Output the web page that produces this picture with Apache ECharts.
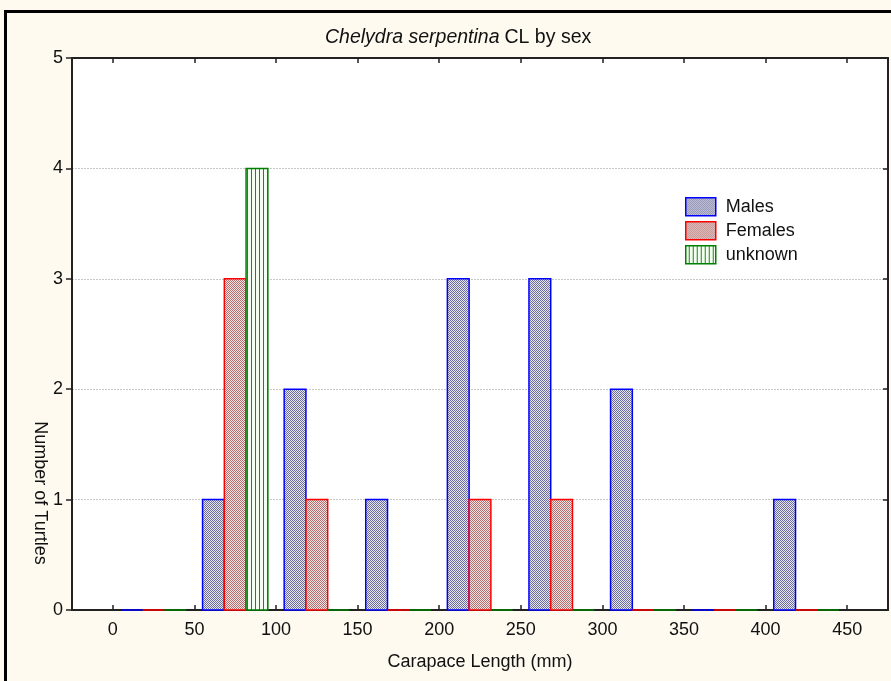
<!DOCTYPE html>
<html>
<head>
<meta charset="utf-8">
<script src="https://cdn.jsdelivr.net/npm/echarts@6/dist/echarts.min.js"></script>
<style>
html,body{margin:0;padding:0;background:#fefaf0;}
#chart{width:891px;height:681px;}
</style>
</head>
<body>
<div id="chart"></div>
<script>
// ---- data ----
var binCenters = [25, 75, 125, 175, 225, 275, 325, 375, 425];
var males   = [0, 1, 2, 1, 3, 3, 2, 0, 1];
var females = [0, 3, 1, 0, 1, 1, 0, 0, 0];
var unknown = [0, 4, 0, 0, 0, 0, 0, 0, 0];
var xTicks = [0, 50, 100, 150, 200, 250, 300, 350, 400, 450];
var yTicks = [0, 1, 2, 3, 4, 5];
var seriesNames = ['Males', 'Females', 'unknown'];

// ---- patterns ----
function checker(dark, light) {
  var c = document.createElement('canvas');
  c.width = 4; c.height = 4;
  var g = c.getContext('2d');
  g.fillStyle = light; g.fillRect(0, 0, 4, 4);
  g.fillStyle = dark;
  for (var y = 0; y < 4; y++) for (var x = 0; x < 4; x++) {
    if ((x + y) % 2 === 0) g.fillRect(x, y, 1, 1);
  }
  return c;
}
function vlines(line, bg) {
  var c = document.createElement('canvas');
  c.width = 4; c.height = 4;
  var g = c.getContext('2d');
  g.fillStyle = bg; g.fillRect(0, 0, 4, 4);
  g.fillStyle = line; g.fillRect(3, 0, 1, 4);
  return c;
}
var pats = [
  {image: checker('#6e6e9e', '#e6e6f0'), repeat: 'repeat'},
  {image: checker('#b07070', '#f6e2e2'), repeat: 'repeat'},
  {image: vlines('#1a8a1a', '#f4fcf2'), repeat: 'repeat'}
];
var strokes = ['#0000ff', '#ff0000', '#008000'];
var offsets = [[-20, -20 / 3], [-20 / 3, 20 / 3], [20 / 3, 20]];
var values = [males, females, unknown];

function makeSeries(k) {
  return {
    name: seriesNames[k],
    type: 'custom',
    itemStyle: {color: pats[k], borderColor: strokes[k], borderWidth: 1.5},
    data: binCenters.map(function (c, i) { return [c, values[k][i]]; }),
    renderItem: function (params, api) {
      var xc = api.value(0), v = api.value(1);
      var p0 = api.coord([xc + offsets[k][0], 0]);
      var p1 = api.coord([xc + offsets[k][1], v]);
      return {
        type: 'rect',
        shape: {x: p0[0], y: p1[1], width: p1[0] - p0[0], height: p0[1] - p1[1]},
        style: {fill: pats[k], stroke: strokes[k], lineWidth: 1.5}
      };
    }
  };
}

var font = 'Liberation Sans, Arial, sans-serif';
var chart = echarts.init(document.getElementById('chart'));
chart.setOption({
  backgroundColor: '#fefaf0',
  animation: false,
  textStyle: {fontFamily: font},
  title: {
    left: 320, top: 23,
    text: '{i|Chelydra serpentina} {n|CL by sex}',
    textStyle: {
      fontWeight: 'normal',
      rich: {
        i: {fontStyle: 'italic', fontWeight: 'normal', fontSize: 19.5, color: '#111', fontFamily: font},
        n: {fontWeight: 'normal', fontSize: 19.5, color: '#111', fontFamily: font}
      }
    }
  },
  legend: {
    orient: 'vertical',
    left: 680, top: 192,
    itemWidth: 30, itemHeight: 18, itemGap: 4.5,
    textStyle: {fontSize: 18, color: '#111', fontFamily: font, padding: [0, 0, 0, 5]},
    data: seriesNames.map(function (n, k) {
      return {name: n, icon: 'rect', itemStyle: {color: pats[k], borderColor: strokes[k], borderWidth: 1.5}};
    })
  },
  grid: {left: 72, right: 3, top: 58, bottom: 71, show: true, backgroundColor: '#ffffff', borderWidth: 0},
  xAxis: [{
    type: 'value', min: -25, max: 475, position: 'bottom',
    name: 'Carapace Length (mm)', nameLocation: 'middle', nameGap: 43,
    nameTextStyle: {fontSize: 18, color: '#111', fontFamily: font},
    axisLine: {show: true, onZero: false, lineStyle: {color: '#222', width: 2}},
    axisTick: {show: true, inside: true, length: 5, customValues: xTicks, lineStyle: {color: '#222', width: 1.5}},
    axisLabel: {customValues: xTicks, fontSize: 18, color: '#111', margin: 11, fontFamily: font},
    splitLine: {show: false}
  }, {
    type: 'value', min: -25, max: 475, position: 'top',
    axisLine: {show: true, onZero: false, lineStyle: {color: '#222', width: 2}},
    axisTick: {show: true, inside: true, length: 5, customValues: xTicks, lineStyle: {color: '#222', width: 1.5}},
    axisLabel: {show: false},
    splitLine: {show: false}
  }],
  yAxis: [{
    type: 'value', min: 0, max: 5, interval: 1, position: 'left',
    axisLine: {show: true, onZero: false, lineStyle: {color: '#222', width: 2}},
    axisTick: {show: true, inside: false, length: 6, lineStyle: {color: '#222', width: 1.5}},
    axisLabel: {fontSize: 18, color: '#111', margin: 9, fontFamily: font},
    splitLine: {show: true, lineStyle: {color: '#c8c8c8', type: [2, 1], width: 1}}
  }, {
    type: 'value', min: 0, max: 5, interval: 1, position: 'right',
    axisLine: {show: true, onZero: false, lineStyle: {color: '#222', width: 2}},
    axisTick: {show: true, inside: true, length: 5, lineStyle: {color: '#222', width: 1.5}},
    axisLabel: {show: false},
    splitLine: {show: false}
  }],
  graphic: [{
    type: 'text', x: 40, y: 493, rotation: -Math.PI / 2,
    style: {text: 'Number of Turtles', fontSize: 18, fill: '#111', fontFamily: font, align: 'center', verticalAlign: 'middle'}
  }, {
    type: 'rect', shape: {x: 5.5, y: 11.5, width: 900, height: 700},
    style: {fill: 'none', stroke: '#000', lineWidth: 3}, z: 100
  }],
  series: [makeSeries(0), makeSeries(1), makeSeries(2)]
});
</script>
</body>
</html>
